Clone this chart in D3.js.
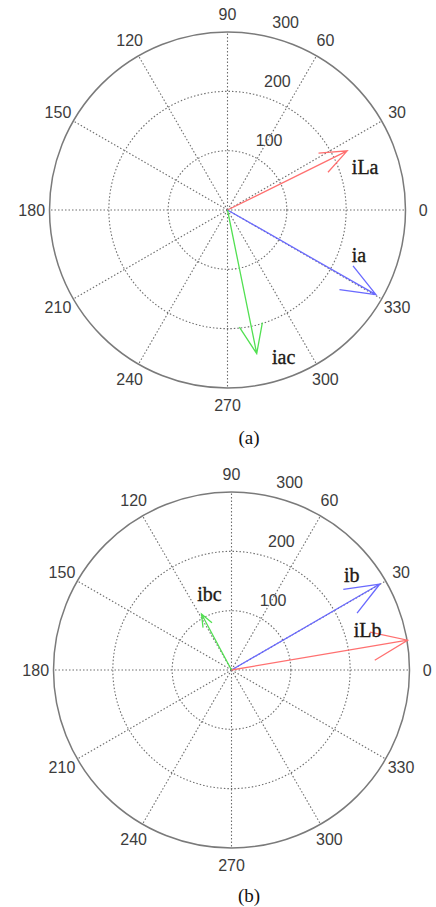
<!DOCTYPE html>
<html>
<head>
<meta charset="utf-8">
<script src="https://cdn.jsdelivr.net/npm/d3@7"></script>
<style>
  html, body { margin: 0; padding: 0; background: #fff; }
  svg { display: block; }
</style>
</head>
<body>
<svg id="chart" width="436" height="907"></svg>
<script>
// Compass plots of phase currents (magnitude, angle in degrees)
const rMax = 300;
const ringTicks = [100, 200, 300];
const angleTicks = [0, 30, 60, 90, 120, 150, 180, 210, 240, 270, 300, 330];

// Plot (a)
const namesA = ["iLa", "ia", "iac"];
const magsA = [225, 288, 247];
const anglesA = [26.3, -29.7, -78.5];

// Plot (b)
const namesB = ["ib", "iLb", "ibc"];
const magsB = [289, 301, 107];
const anglesB = [30.1, 9.6, 118.2];

const colorsA = ["#ff7070", "#6a6aff", "#52e052"];
const colorsB = ["#6a6aff", "#ff7070", "#52e052"];
// label offsets from the arrow tip, in px
const labelOffA = [[18, 16], [-17, -40], [27, 3]];
const labelOffB = [[-28, -9], [-40, -10], [8, -20]];

const svg = d3.select("#chart");

function compass(cx, cy, names, mags, angles, colors, offs, caption, capY) {
  const R = 178;
  const r = d3.scaleLinear().domain([0, rMax]).range([0, R]);
  const g = svg.append("g").attr("transform", `translate(${cx},${cy})`);
  const pt = (v, deg) => [r(v) * Math.cos(deg * Math.PI / 180), -r(v) * Math.sin(deg * Math.PI / 180)];

  // spokes
  g.selectAll("line.spoke").data(angleTicks).join("line")
    .attr("class", "spoke")
    .attr("x1", 0).attr("y1", 0)
    .attr("x2", d => pt(rMax, d)[0]).attr("y2", d => pt(rMax, d)[1])
    .attr("stroke", "#6e6e6e").attr("stroke-width", 1.1)
    .attr("stroke-dasharray", "1.5,2");

  // rings
  g.selectAll("circle.ring").data(ringTicks).join("circle")
    .attr("class", "ring")
    .attr("r", d => r(d))
    .attr("fill", "none")
    .attr("stroke", d => d === rMax ? "#7a7a7a" : "#6e6e6e")
    .attr("stroke-width", d => d === rMax ? 1.5 : 1.1)
    .attr("stroke-dasharray", d => d === rMax ? null : "1.5,2");

  // angle labels
  g.selectAll("text.ang").data(angleTicks).join("text")
    .attr("class", "ang")
    .attr("x", d => r(rMax * 1.1) * Math.cos(d * Math.PI / 180))
    .attr("y", d => -r(rMax * 1.1) * Math.sin(d * Math.PI / 180))
    .attr("text-anchor", "middle")
    .attr("dominant-baseline", "central")
    .attr("font-family", "Liberation Sans, Arial, sans-serif")
    .attr("font-size", 16)
    .attr("fill", "#3c3c3c")
    .text(d => d);

  // ring labels
  g.selectAll("text.rad").data(ringTicks).join("text")
    .attr("class", "rad")
    .attr("x", d => pt(d, 82)[0] + 20)
    .attr("y", d => pt(d, 82)[1] - 11)
    .attr("text-anchor", "start")
    .attr("dominant-baseline", "central")
    .attr("font-family", "Liberation Sans, Arial, sans-serif")
    .attr("font-size", 16)
    .attr("fill", "#3c3c3c")
    .text(d => d);

  // arrows: shaft plus two head barbs (0.2 length back, 0.08 length aside)
  const data = names.map((n, i) => ({ name: n, mag: mags[i], ang: angles[i], color: colors[i], off: offs[i] }));
  const arrowPath = d => {
    const a = d.ang * Math.PI / 180;
    const L = r(d.mag);
    const ux = Math.cos(a), uy = -Math.sin(a);
    const nx = -uy, ny = ux;
    const tx = L * ux, ty = L * uy;
    const bx = 0.8 * L * ux, by = 0.8 * L * uy;
    const w = 0.08 * L;
    return `M0,0L${tx},${ty}M${bx + w * nx},${by + w * ny}L${tx},${ty}L${bx - w * nx},${by - w * ny}`;
  };
  g.selectAll("path.arrow").data(data).join("path")
    .attr("class", "arrow")
    .attr("d", arrowPath)
    .attr("fill", "none")
    .attr("stroke", d => d.color)
    .attr("stroke-width", 1.3)
    .attr("stroke-linejoin", "miter");

  g.selectAll("text.lbl").data(data).join("text")
    .attr("class", "lbl")
    .attr("x", d => pt(d.mag, d.ang)[0] + d.off[0])
    .attr("y", d => pt(d.mag, d.ang)[1] + d.off[1])
    .attr("text-anchor", "middle")
    .attr("dominant-baseline", "central")
    .attr("font-family", "Liberation Serif, Times New Roman, serif")
    .attr("font-size", 20)
    .attr("fill", "#1e1a16")
    .attr("stroke", "#1e1a16")
    .attr("stroke-width", 0.35)
    .text(d => d.name);

  svg.append("text")
    .attr("x", 249).attr("y", capY)
    .attr("text-anchor", "middle")
    .attr("dominant-baseline", "central")
    .attr("font-family", "Liberation Serif, Times New Roman, serif")
    .attr("font-size", 19)
    .attr("fill", "#111")
    .text(caption);
}

compass(227.5, 210, namesA, magsA, anglesA, colorsA, labelOffA, "(a)", 437);
compass(231.5, 670, namesB, magsB, anglesB, colorsB, labelOffB, "(b)", 895);
</script>
</body>
</html>
